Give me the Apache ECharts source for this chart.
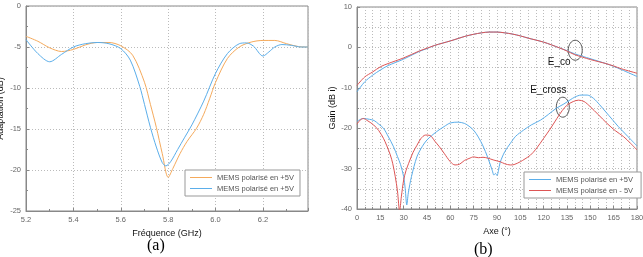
<!DOCTYPE html>
<html>
<head>
<meta charset="utf-8">
<script src="https://cdn.jsdelivr.net/npm/echarts@6/dist/echarts.min.js"></script>
<style>
  html, body { margin: 0; padding: 0; background: #fff; }
  #main { width: 643px; height: 257px; }
</style>
</head>
<body>
<div id="main"></div>
<script>
// (a) adaptation vs frequency
const aOrangeFreq = [5.20, 5.25, 5.30, 5.35, 5.40, 5.45, 5.50, 5.55, 5.60, 5.65, 5.70, 5.725, 5.75, 5.775, 5.80, 5.82, 5.85, 5.88, 5.92, 5.95, 5.975, 6.00, 6.05, 6.10, 6.15, 6.20, 6.25, 6.30, 6.35, 6.39];
const aOrangeDb = [-3.7, -4.3, -5.1, -5.55, -5.3, -4.75, -4.45, -4.45, -4.85, -6.0, -9.3, -12.0, -14.8, -18.0, -20.9, -19.8, -18.0, -16.5, -14.9, -13.2, -11.3, -9.3, -6.4, -5.0, -4.4, -4.2, -4.2, -4.6, -4.95, -5.0];
const aBlueFreq = [5.20, 5.25, 5.30, 5.35, 5.40, 5.45, 5.50, 5.55, 5.60, 5.64, 5.68, 5.70, 5.725, 5.75, 5.775, 5.79, 5.81, 5.84, 5.87, 5.90, 5.95, 6.00, 6.05, 6.10, 6.13, 6.16, 6.20, 6.225, 6.25, 6.28, 6.32, 6.36, 6.39];
const aBlueDb = [-4.1, -5.8, -6.8, -5.9, -5.0, -4.6, -4.45, -4.6, -5.2, -6.6, -9.8, -12.0, -14.8, -17.2, -19.1, -19.5, -19.0, -17.5, -16.0, -14.5, -11.6, -8.2, -5.8, -4.6, -4.5, -4.9, -6.1, -5.6, -5.0, -4.7, -4.8, -5.0, -5.0];
const aLegend = ['MEMS polarisé en +5V', 'MEMS polarisé en +5V '];

// (b) gain vs angle
const coAngle = [0, 5, 10, 15, 20, 30, 40, 45, 50, 60, 70, 75, 80, 85, 90, 95, 100, 105, 110, 120, 130, 135, 140, 150, 160, 165, 170, 180];
const coBlue = [-11.0, -8.5, -6.9, -5.6, -4.5, -2.9, -1.0, -0.3, 0.5, 1.6, 2.8, 3.25, 3.6, 3.8, 3.8, 3.6, 3.3, 2.85, 2.3, 1.3, -0.1, -0.8, -1.6, -2.8, -4.0, -4.7, -5.5, -7.2];
const coRed = [-9.4, -7.3, -6.1, -4.8, -4.0, -2.6, -0.9, -0.2, 0.5, 1.6, 2.8, 3.25, 3.6, 3.8, 3.8, 3.6, 3.3, 2.85, 2.3, 1.3, -0.1, -0.9, -1.8, -3.0, -4.0, -4.6, -5.3, -6.4];
const crossBlueAngle = [0, 4, 8, 11, 14, 17, 20, 23.5, 26, 28, 30, 31, 32, 33, 35, 38.5, 42, 45, 51, 56, 60, 65, 69, 72, 75, 78, 81, 84, 87, 88, 89, 90, 91, 92, 95, 98.5, 102, 107, 112, 118, 123, 128, 133, 137, 140, 144, 148, 152, 156, 160, 164, 168, 172, 176, 180];
const crossBlue = [-18.3, -17.6, -17.8, -18.1, -19.0, -20.0, -22.0, -24.6, -27.0, -29.0, -32.0, -35.0, -39.0, -36.0, -32.0, -27.1, -24.5, -22.9, -20.9, -19.6, -18.7, -18.5, -18.8, -19.5, -20.5, -22.2, -24.4, -27.2, -30.5, -31.6, -31.2, -31.7, -30.4, -28.5, -25.8, -23.8, -22.0, -20.5, -19.2, -18.0, -16.6, -15.1, -14.0, -13.0, -12.3, -11.8, -11.8, -12.6, -14.2, -16.0, -17.8, -19.6, -21.2, -22.8, -24.4];
const crossRedAngle = [0, 2, 4, 7, 10.7, 14, 17, 19, 21.4, 23, 24.6, 26, 27.4, 28.5, 30, 31.5, 33.2, 36, 38.6, 41, 44, 47, 50, 53, 56, 60, 63, 66, 69, 72, 75, 78, 81, 84, 88, 92, 95, 98.5, 101, 105, 108, 111.4, 115, 120, 124, 128.5, 132, 135, 139, 142.4, 146, 150, 155, 160.7, 166, 171.4, 176, 180];
const crossRed = [-19.0, -18.0, -17.6, -18.2, -19.2, -20.6, -22.5, -24.2, -26.6, -28.8, -32.0, -35.5, -40.5, -37.0, -32.8, -30.5, -28.7, -26.0, -24.2, -22.6, -21.7, -21.8, -23.2, -24.6, -26.2, -28.3, -29.1, -28.9, -28.0, -27.5, -27.1, -27.3, -27.2, -27.4, -27.9, -28.3, -28.8, -29.1, -29.0, -28.3, -27.6, -26.7, -25.2, -22.5, -20.3, -17.6, -15.6, -14.3, -13.4, -13.06, -13.4, -14.7, -16.6, -18.8, -20.6, -22.1, -23.8, -25.4];
const bLegend = ['MEMS polarisé en +5V  ', 'MEMS polarisé en - 5V'];

const ORANGE = '#F5AA5C';
const BLUE = '#5BAEEA';
const RED = '#DD5555';
const FONT = 'Liberation Sans';

function zip(xs, ys) {
  return xs.map((x, i) => [x, ys[i]]);
}

function line(name, xs, ys, color, idx) {
  return {
    name: name,
    type: 'line',
    xAxisIndex: idx,
    yAxisIndex: idx,
    data: zip(xs, ys),
    smooth: 0.3,
    symbol: 'none',
    clip: true,
    lineStyle: { color: color, width: 1 },
    itemStyle: { color: color }
  };
}

function legendBox(names, left, top) {
  return {
    data: names.map(n => ({ name: n, icon: 'rect' })),
    orient: 'vertical', left: left, top: top,
    itemWidth: 22, itemHeight: 1, itemGap: 2, padding: [3, 4, 3, 5],
    borderColor: '#999999', borderWidth: 1, borderRadius: 0, backgroundColor: '#fff',
    selectedMode: false,
    textStyle: { color: '#555555', fontSize: 7.5, fontFamily: FONT, lineHeight: 9 }
  };
}

const dotted = { show: true, lineStyle: { color: '#BBBBBB', type: [1, 2], width: 1 } };
const axisLine = { show: true, onZero: false, lineStyle: { color: '#888888', width: 1 } };
const tick = { show: true, inside: true, length: 3, lineStyle: { color: '#888888' } };
const label = { color: '#666666', fontSize: 7.5, fontFamily: FONT, margin: 5 };
const nameStyle = { color: '#111111', fontSize: 9, fontFamily: FONT };

const chart = echarts.init(document.getElementById('main'));

chart.setOption({
  animation: false,
  backgroundColor: '#fff',
  grid: [
    { left: 26, top: 6, width: 282, height: 205, outerBoundsMode: 'none', containLabel: false, show: true, borderColor: '#888888', borderWidth: 1, backgroundColor: 'transparent' },
    { left: 357, top: 7, width: 280, height: 202, outerBoundsMode: 'none', containLabel: false, show: true, borderColor: '#888888', borderWidth: 1, backgroundColor: 'transparent' }
  ],
  xAxis: [
    {
      gridIndex: 0, type: 'value', min: 5.2, max: 6.39, interval: 0.2,
      name: 'Fréquence (GHz)', nameLocation: 'middle', nameGap: 16, nameTextStyle: nameStyle,
      axisLine: axisLine, axisTick: tick,
      minorTick: { show: true, splitNumber: 2, length: 2, lineStyle: { color: '#888888' } },
      axisLabel: Object.assign({}, label, {
        showMaxLabel: false,
        formatter: v => (Math.abs(v / 0.2 - Math.round(v / 0.2)) < 1e-6 ? v.toFixed(1) : '')
      }),
      splitLine: dotted
    },
    {
      gridIndex: 1, type: 'value', min: 0, max: 180, interval: 15,
      name: 'Axe (°)', nameLocation: 'middle', nameGap: 16, nameTextStyle: nameStyle,
      axisLine: axisLine, axisTick: tick,
      minorTick: { show: true, splitNumber: 3, length: 2, lineStyle: { color: '#888888' } },
      axisLabel: label,
      splitLine: dotted,
      minorSplitLine: dotted
    }
  ],
  yAxis: [
    {
      gridIndex: 0, type: 'value', min: -25, max: 0, interval: 5,
      name: 'Adaptation (dB)', nameLocation: 'middle', nameGap: 21, nameTextStyle: nameStyle,
      axisLine: axisLine, axisTick: tick,
      minorTick: { show: true, splitNumber: 2, length: 2, lineStyle: { color: '#888888' } },
      axisLabel: label,
      splitLine: dotted
    },
    {
      gridIndex: 1, type: 'value', min: -40, max: 10, interval: 10,
      name: 'Gain (dB i)', nameLocation: 'middle', nameGap: 19, nameTextStyle: nameStyle,
      axisLine: axisLine, axisTick: tick,
      minorTick: { show: true, splitNumber: 2, length: 2, lineStyle: { color: '#888888' } },
      axisLabel: label,
      splitLine: dotted,
      minorSplitLine: dotted
    }
  ],
  legend: [
    legendBox(aLegend, 185, 170),
    legendBox(bLegend, 524, 172)
  ],
  series: [
    line(aLegend[0], aOrangeFreq, aOrangeDb, ORANGE, 0),
    line(aLegend[1], aBlueFreq, aBlueDb, BLUE, 0),
    line('E_co +5V', coAngle, coBlue, BLUE, 1),
    line('E_co -5V', coAngle, coRed, RED, 1),
    line(bLegend[0], crossBlueAngle, crossBlue, BLUE, 1),
    line(bLegend[1], crossRedAngle, crossRed, RED, 1)
  ]
});

// annotations placed in data coordinates of the (b) plot
const p = v => chart.convertToPixel({ gridIndex: 1 }, v);
const coEll = p([140.3, -0.7]);
const coTxt = p([130, -3.7]);
const crEll = p([132.3, -14.8]);
const crTxt = p([123, -10.6]);

chart.setOption({
  graphic: [
    { type: 'ellipse', shape: { cx: coEll[0], cy: coEll[1], rx: 7, ry: 10 }, style: { fill: 'none', stroke: '#555555', lineWidth: 1 } },
    { type: 'ellipse', shape: { cx: crEll[0], cy: crEll[1], rx: 6.5, ry: 10 }, style: { fill: 'none', stroke: '#555555', lineWidth: 1 } },
    { type: 'text', x: coTxt[0], y: coTxt[1], style: { text: 'E_co', fill: '#111', fontSize: 10, fontFamily: FONT, align: 'center', verticalAlign: 'middle' } },
    { type: 'text', x: crTxt[0], y: crTxt[1], style: { text: 'E_cross', fill: '#111', fontSize: 10, fontFamily: FONT, align: 'center', verticalAlign: 'middle' } },
    { type: 'text', left: 147, top: 238, style: { text: '(a)', fill: '#000', fontSize: 16, fontFamily: 'Liberation Serif' } },
    { type: 'text', left: 474, top: 242, style: { text: '(b)', fill: '#000', fontSize: 16, fontFamily: 'Liberation Serif' } }
  ]
});
</script>
</body>
</html>
